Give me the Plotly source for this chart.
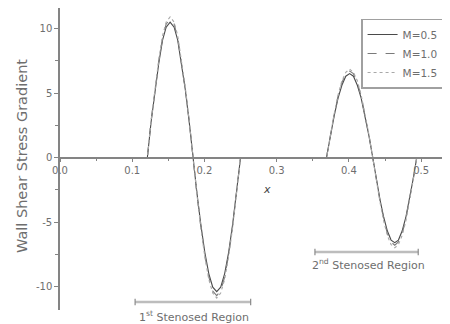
import plotly.graph_objects as go

# Axial position (shared by all series)
x_pos = [0.0, 0.121,
         0.126, 0.1315, 0.137, 0.142, 0.147, 0.1525, 0.158, 0.163, 0.168, 0.1735, 0.179, 0.184,
         0.1895, 0.195, 0.2005, 0.206, 0.2115, 0.217, 0.2225, 0.228, 0.2335, 0.239, 0.2445, 0.250,
         0.369,
         0.3743, 0.3797, 0.385, 0.3903, 0.3957, 0.401, 0.4063, 0.4117, 0.417, 0.4223, 0.4277, 0.433,
         0.4381, 0.4432, 0.4483, 0.4533, 0.4584, 0.4635, 0.4686, 0.4737, 0.4788, 0.4838, 0.4889, 0.494,
         0.54]

wssg_m05 = [0, 0,
            2.7, 5.25, 7.4, 9.1, 10.1, 10.5, 10.1, 9.1, 7.4, 5.25, 2.7, 0,
            -2.7, -5.2, -7.35, -9.0, -10.05, -10.4, -10.05, -9.0, -7.35, -5.2, -2.7, 0,
            0,
            1.7, 3.25, 4.6, 5.6, 6.3, 6.5, 6.3, 5.6, 4.6, 3.25, 1.7, 0,
            -1.7, -3.3, -4.65, -5.7, -6.4, -6.6, -6.4, -5.7, -4.65, -3.3, -1.7, 0,
            0]
wssg_m10 = [0, 0,
            2.8, 5.35, 7.55, 9.25, 10.35, 10.7, 10.35, 9.25, 7.55, 5.35, 2.8, 0,
            -2.8, -5.35, -7.55, -9.25, -10.35, -10.7, -10.35, -9.25, -7.55, -5.35, -2.8, 0,
            0,
            1.75, 3.35, 4.75, 5.8, 6.5, 6.7, 6.5, 5.8, 4.75, 3.35, 1.75, 0,
            -1.75, -3.4, -4.8, -5.9, -6.55, -6.8, -6.55, -5.9, -4.8, -3.4, -1.75, 0,
            0]
wssg_m15 = [0, 0,
            2.8, 5.45, 7.7, 9.45, 10.5, 10.9, 10.5, 9.45, 7.7, 5.45, 2.8, 0,
            -2.8, -5.45, -7.7, -9.45, -10.5, -10.9, -10.5, -9.45, -7.7, -5.45, -2.8, 0,
            0,
            1.8, 3.4, 4.85, 5.95, 6.6, 6.85, 6.6, 5.95, 4.85, 3.4, 1.8, 0,
            -1.8, -3.5, -4.95, -6.05, -6.75, -7.0, -6.75, -6.05, -4.95, -3.5, -1.8, 0,
            0]

series_names = ["M=0.5", "M=1.0", "M=1.5"]

x_tickvals = [0.0, 0.1, 0.2, 0.3, 0.4, 0.5]
x_ticktext = ["0.0", "0.1", "0.2", "0.3", "0.4", "0.5"]
y_tickvals = [10, 5, 0, -5, -10]
y_ticktext = ["10", "5", "0", "-5", "-10"]

region_labels = ["1<sup>st</sup> Stenosed Region", "2<sup>nd</sup> Stenosed Region"]
region_x0 = [0.104, 0.353]
region_x1 = [0.264, 0.496]
region_y = [-11.2, -7.33]

TXT = "#6e6e6e"
AX = "#848484"
FONT = "DejaVu Sans, Arial, sans-serif"

Y_RANGE = [-11.82, 11.59]
x_axis_pos = -Y_RANGE[0] / (Y_RANGE[1] - Y_RANGE[0])

fig = go.Figure()
styles = [dict(color="#4a4a4a", dash="solid", width=1.1),
          dict(color="#7a7a7a", dash="dash", width=1.1),
          dict(color="#a8a8a8", dash="dot", width=1.1)]
for name, ys, st in zip(series_names, [wssg_m05, wssg_m10, wssg_m15], styles):
    fig.add_trace(go.Scatter(x=x_pos, y=ys, mode="lines", name=name,
                             line=st, cliponaxis=False))

shapes = []
annotations = []
for a, b, yy in zip(region_x0, region_x1, region_y):
    shapes.append(dict(type="line", xref="x", yref="y", x0=a, x1=b, y0=yy, y1=yy,
                       line=dict(color="#bdbdbd", width=2.5)))
    for e in (a, b):
        shapes.append(dict(type="line", xref="x", yref="y", x0=e, x1=e,
                           y0=yy - 0.25, y1=yy + 0.25,
                           line=dict(color="#8a8a8a", width=1.2)))

# region captions
annotations.append(dict(x=(region_x0[0] + region_x1[0]) / 2 + 0.002, y=-0.0199,
                        xref="x", yref="paper", yanchor="middle", text=region_labels[0],
                        showarrow=False, font=dict(size=11, color=TXT, family=FONT)))
annotations.append(dict(x=(region_x0[1] + region_x1[1]) / 2 + 0.002, y=-8.33,
                        xref="x", yref="y", yanchor="middle", text=region_labels[1],
                        showarrow=False, font=dict(size=11, color=TXT, family=FONT)))

annotations.append(dict(x=-0.0974, y=0.51, xref="paper", yref="paper", xanchor="center",
                        yanchor="middle",
                        text="Wall Shear Stress Gradient", textangle=-90, showarrow=False,
                        font=dict(size=14.5, color=TXT, family=FONT)))
annotations.append(dict(x=0.287, y=-2.5, xref="x", yref="y", text="<i>x</i>",
                        showarrow=False, font=dict(size=11, color="#444", family=FONT)))

fig.update_layout(
    width=442, height=316,
    margin=dict(l=52, r=0, t=0, b=14),
    plot_bgcolor="white", paper_bgcolor="white",
    showlegend=True,
    legend=dict(x=0.772, y=0.965, xanchor="left", yanchor="top",
                bgcolor="white", bordercolor="#a0a0a0", borderwidth=1.5,
                font=dict(size=10.5, color=TXT, family=FONT),
                tracegroupgap=0, itemwidth=30),
    shapes=shapes, annotations=annotations,
    xaxis=dict(range=[0, 0.54], anchor="free", position=x_axis_pos,
               showline=True, linecolor=AX, linewidth=1.5,
               showgrid=False, zeroline=False,
               tickvals=x_tickvals, ticktext=x_ticktext,
               ticks="outside", ticklen=4, tickcolor=AX,
               minor=dict(tickvals=[0.05, 0.15, 0.25, 0.35, 0.45], ticks="outside",
                          ticklen=3, tickcolor=AX),
               tickfont=dict(size=10, color=TXT, family=FONT)),
    yaxis=dict(range=Y_RANGE, showline=True, linecolor=AX, linewidth=1.5,
               showgrid=False, zeroline=False,
               tickvals=y_tickvals, ticktext=y_ticktext,
               ticks="outside", ticklen=4, tickcolor=AX,
               minor=dict(tickvals=[7.5, 2.5, -2.5, -7.5], ticks="outside",
                          ticklen=3, tickcolor=AX),
               tickfont=dict(size=10, color=TXT, family=FONT)),
)

fig.write_html("out.html")
